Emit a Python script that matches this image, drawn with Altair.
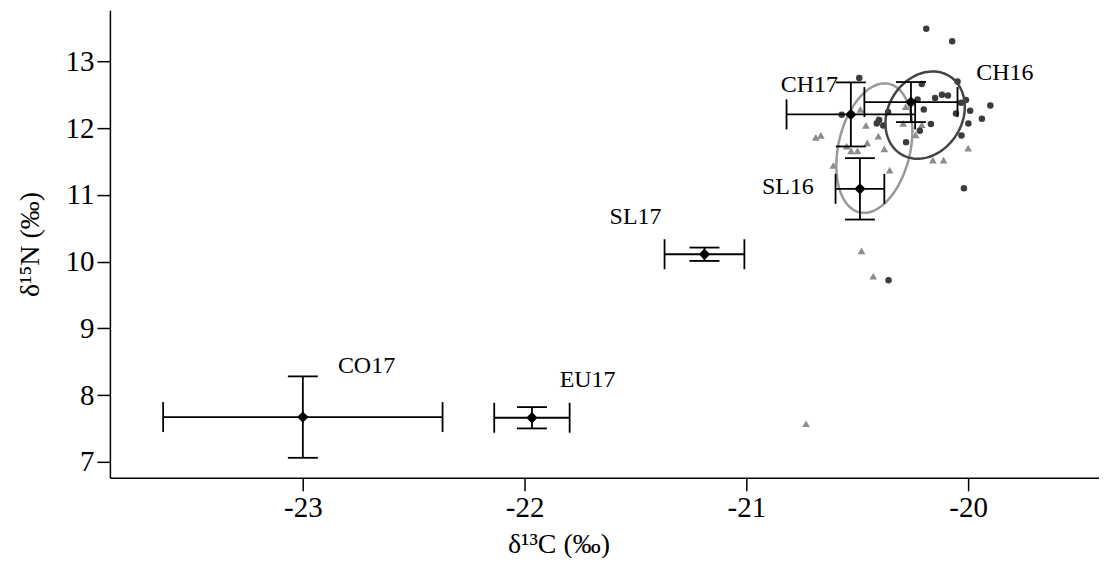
import altair as alt
import numpy as np
import pandas as pd

# ---- individual samples ----
ch_x = [-20.189, -20.072, -20.491, -20.209, -20.048, -20.149, -20.118, -20.091, -20.228,
        -20.032, -20.010, -19.900, -20.200, -20.055, -19.991, -19.938, -20.168, -19.999,
        -20.218, -20.030, -20.280, -20.019, -20.570, -20.361, -20.412, -20.383, -20.401,
        -20.359]
ch_y = [13.49, 13.30, 12.75, 12.66, 12.70, 12.45, 12.50, 12.49, 12.43,
        12.38, 12.42, 12.34, 12.28, 12.22, 12.26, 12.14, 12.06, 12.07,
        11.96, 11.89, 11.79, 11.10, 12.20, 12.24, 12.07, 12.04, 12.12,
        9.72]

sl_x = [-20.687, -20.664, -20.608, -20.548, -20.528, -20.499, -20.486, -20.461, -20.455,
        -20.408, -20.405, -20.378, -20.354, -20.293, -20.282, -20.237, -20.209, -20.159,
        -20.111, -20.000, -20.481, -20.428, -20.731]
sl_y = [11.86, 11.89, 11.44, 11.73, 11.66, 11.66, 12.28, 12.04, 11.78,
        12.14, 11.88, 11.69, 11.37, 12.07, 12.32, 11.90, 12.05, 11.52,
        11.52, 11.70, 10.16, 9.78, 7.57]

# ---- group means and SD ----
groups = ["CO17", "EU17", "SL17", "SL16", "CH17", "CH16"]
mean_c = [-23.00, -21.967, -21.189, -20.488, -20.529, -20.258]
sd_c = [0.63, 0.17, 0.18, 0.11, 0.29, 0.21]
mean_n = [7.67, 7.66, 10.11, 11.09, 12.205, 12.39]
sd_n = [0.61, 0.16, 0.10, 0.46, 0.48, 0.30]

# label anchors
label_x = [-22.842, -21.842, -21.617, -20.930, -20.845, -19.964]
label_y = [8.44, 8.23, 10.67, 11.12, 12.64, 12.82]

# ---- standard ellipses: centre and two conjugate semi-axis vectors ----
ell_names = ["SL16", "CH16"]
ell_cx = [-20.423, -20.194]
ell_cy = [11.70, 12.195]
ell_ux = [0.0667, 0.018]
ell_uy = [0.9626, 0.651]
ell_vx = [0.158, 0.178]
ell_vy = [-0.121, 0.06]
ell_color = ["#999999", "#444444"]

X_DOM = [-23.87, -19.41]
Y_DOM = [6.76, 13.766]
FONT = "Liberation Serif"

ch = pd.DataFrame({"c": ch_x, "n": ch_y})
sl = pd.DataFrame({"c": sl_x, "n": sl_y})
grp = pd.DataFrame({
    "g": groups, "c": mean_c, "n": mean_n,
    "clo": np.array(mean_c) - np.array(sd_c), "chi": np.array(mean_c) + np.array(sd_c),
    "nlo": np.array(mean_n) - np.array(sd_n), "nhi": np.array(mean_n) + np.array(sd_n),
    "lx": label_x, "ly": label_y,
})

t = np.linspace(0, 2 * np.pi, 121)
rows = []
for i, nm in enumerate(ell_names):
    for k, tt in enumerate(t):
        rows.append({"e": nm, "k": k,
                     "c": ell_cx[i] + ell_ux[i] * np.cos(tt) + ell_vx[i] * np.sin(tt),
                     "n": ell_cy[i] + ell_uy[i] * np.cos(tt) + ell_vy[i] * np.sin(tt)})
ell = pd.DataFrame(rows)

xs = alt.Scale(domain=X_DOM, nice=False, zero=False)
ys = alt.Scale(domain=Y_DOM, nice=False, zero=False)

xax = alt.Axis(values=[-23, -22, -21, -20], labelExpr="'' + datum.value",
               title="δ¹³C (‰)", grid=False, titleX=449)
yax = alt.Axis(values=[7, 8, 9, 10, 11, 12, 13], title="δ¹⁵N (‰)", grid=False)


def X(f):
    return alt.X(f, type="quantitative", scale=xs, axis=xax)


def Y(f):
    return alt.Y(f, type="quantitative", scale=ys, axis=yax)


tri = alt.Chart(sl).mark_point(shape="triangle-up", filled=True, size=60,
                               color="#8c8c8c", opacity=1).encode(
    x=X("c"), y=Y("n"))
dots = alt.Chart(ch).mark_circle(size=42, color="#3c3c3c", opacity=1).encode(
    x=X("c"), y=Y("n"))

ellipses = alt.Chart(ell).mark_line(strokeWidth=2.5).encode(
    x=X("c"), y=Y("n"), detail="e:N", order="k:Q",
    color=alt.Color("e:N", scale=alt.Scale(domain=ell_names, range=ell_color), legend=None))

base = alt.Chart(grp)
hbar = base.mark_rule(color="black", strokeWidth=1.8).encode(x=X("clo"), x2="chi", y=Y("n"))
vbar = base.mark_rule(color="black", strokeWidth=1.8).encode(x=X("c"), y=Y("nlo"), y2="nhi")
capl = base.mark_tick(orient="vertical", size=30, thickness=1.8, color="black", opacity=1).encode(x=X("clo"), y=Y("n"))
capr = base.mark_tick(orient="vertical", size=30, thickness=1.8, color="black", opacity=1).encode(x=X("chi"), y=Y("n"))
capb = base.mark_tick(orient="horizontal", size=30, thickness=1.8, color="black", opacity=1).encode(x=X("c"), y=Y("nlo"))
capt = base.mark_tick(orient="horizontal", size=30, thickness=1.8, color="black", opacity=1).encode(x=X("c"), y=Y("nhi"))
means = base.mark_point(shape="diamond", filled=True, size=130, color="black", opacity=1).encode(
    x=X("c"), y=Y("n"))
labels = base.mark_text(align="left", baseline="middle", font=FONT, fontSize=24,
                        color="black").encode(x=X("lx"), y=Y("ly"), text="g:N")

chart = alt.layer(tri, dots, ellipses, hbar, vbar, capl, capr, capb, capt, means, labels).properties(
    width=990, height=468,
    autosize=alt.AutoSizeParams(type="none"),
    padding={"left": 102, "top": 2, "right": 0, "bottom": 80},
).configure_view(stroke=None).configure_axis(
    domainColor="black", domainWidth=1.5, tickColor="black", tickWidth=1.5, tickSize=13,
    labelFont=FONT, labelFontSize=29, labelColor="black", labelPadding=3,
    titleFont=FONT, titleFontSize=28, titleColor="black", titleFontWeight="normal",
).configure_axisY(titlePadding=20).configure_axisX(titlePadding=8)

chart.save("out.html", embed_options={"renderer": "svg", "actions": False})
